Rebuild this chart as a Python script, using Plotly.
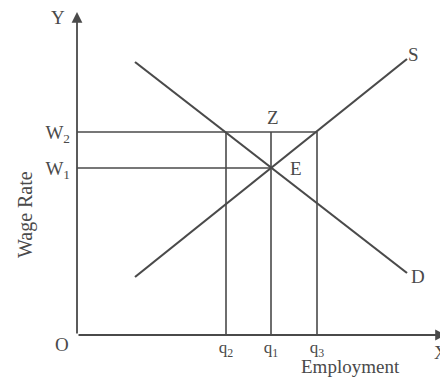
import plotly.graph_objects as go

# values (1 unit ~ 10 px)
wage_vals = [16.7, 20.3]
wage_text = ["W<sub>1</sub>", "W<sub>2</sub>"]
q_vals = [14.9, 19.4, 24.0]
q_text = ["q<sub>2</sub>", "q<sub>1</sub>", "q<sub>3</sub>"]

supply_x = [5.8, 33.0]
supply_y = [5.8, 27.6]
demand_x = [5.8, 33.0]
demand_y = [27.3, 6.2]

x_max = 37.0
y_max = 32.5

ink = "#4a4a4a"
serif = "Liberation Serif"

fig = go.Figure()

# supply and demand
fig.add_trace(go.Scatter(x=supply_x, y=supply_y, mode="lines",
	line=dict(color=ink, width=2.2), showlegend=False, hoverinfo="skip"))
fig.add_trace(go.Scatter(x=demand_x, y=demand_y, mode="lines",
	line=dict(color=ink, width=2.2), showlegend=False, hoverinfo="skip"))

# guide lines for W1 / W2
fig.add_trace(go.Scatter(x=[0, q_vals[1]], y=[wage_vals[0], wage_vals[0]], mode="lines",
	line=dict(color=ink, width=1.6), showlegend=False, hoverinfo="skip"))
fig.add_trace(go.Scatter(x=[0, q_vals[2]], y=[wage_vals[1], wage_vals[1]], mode="lines",
	line=dict(color=ink, width=1.6), showlegend=False, hoverinfo="skip"))

# verticals at q2, q1, q3
for q in q_vals:
	fig.add_trace(go.Scatter(x=[q, q], y=[0, wage_vals[1]], mode="lines",
		line=dict(color=ink, width=1.6), showlegend=False, hoverinfo="skip"))

# axes with arrows
fig.add_annotation(x=0, y=y_max - 0.2, ax=0, ay=0, xref="x", yref="y", axref="x", ayref="y",
	showarrow=True, arrowhead=2, arrowsize=1.2, arrowwidth=1.8, arrowcolor=ink, text="")
fig.add_annotation(x=x_max - 0.1, y=0, ax=0, ay=0, xref="x", yref="y", axref="x", ayref="y",
	showarrow=True, arrowhead=2, arrowsize=1.2, arrowwidth=1.8, arrowcolor=ink, text="")

font = dict(family=serif, size=19, color=ink)
# labels placed in data units, converted to paper so they may sit outside the axes
labels = [
	("Y", -1.9, 31.7),
	("X", 36.4, -1.7),
	("O", -1.5, -1.0),
	("S", 33.6, 28.0),
	("D", 34.1, 5.9),
	("E", 21.9, 16.7),
	("Z", 19.6, 21.8),
]
for txt, lx, ly in labels:
	fig.add_annotation(x=lx / x_max, y=ly / y_max, text=txt, showarrow=False, font=font,
		xref="paper", yref="paper", xanchor="center", yanchor="middle")

fig.add_annotation(x=27.3 / x_max, y=-3.1 / y_max, text="Employment", showarrow=False,
	font=dict(family=serif, size=19, color=ink), xref="paper", yref="paper",
	xanchor="center", yanchor="middle")
fig.add_annotation(x=-5.2 / x_max, y=12.0 / y_max, text="Wage Rate", showarrow=False,
	textangle=-90, font=dict(family=serif, size=20, color=ink), xref="paper", yref="paper",
	xanchor="center", yanchor="middle")

# page body adds an 8px margin, so the figure is sized to fit inside the window
fig.update_layout(
	width=440, height=369,
	margin=dict(l=69, r=1, t=2, b=42),
	paper_bgcolor="white", plot_bgcolor="white",
	showlegend=False,
)
fig.update_xaxes(range=[0, x_max], tickvals=q_vals, ticktext=q_text, ticks="",
	showgrid=False, zeroline=False, showline=False, automargin=False,
	ticklabelstandoff=0,
	tickfont=dict(family=serif, size=17, color=ink))
fig.update_yaxes(range=[0, y_max], tickvals=wage_vals, ticktext=wage_text, ticks="",
	showgrid=False, zeroline=False, showline=False, automargin=False,
	ticklabelstandoff=6,
	tickfont=dict(family=serif, size=19, color=ink))

fig.write_html("out.html")
